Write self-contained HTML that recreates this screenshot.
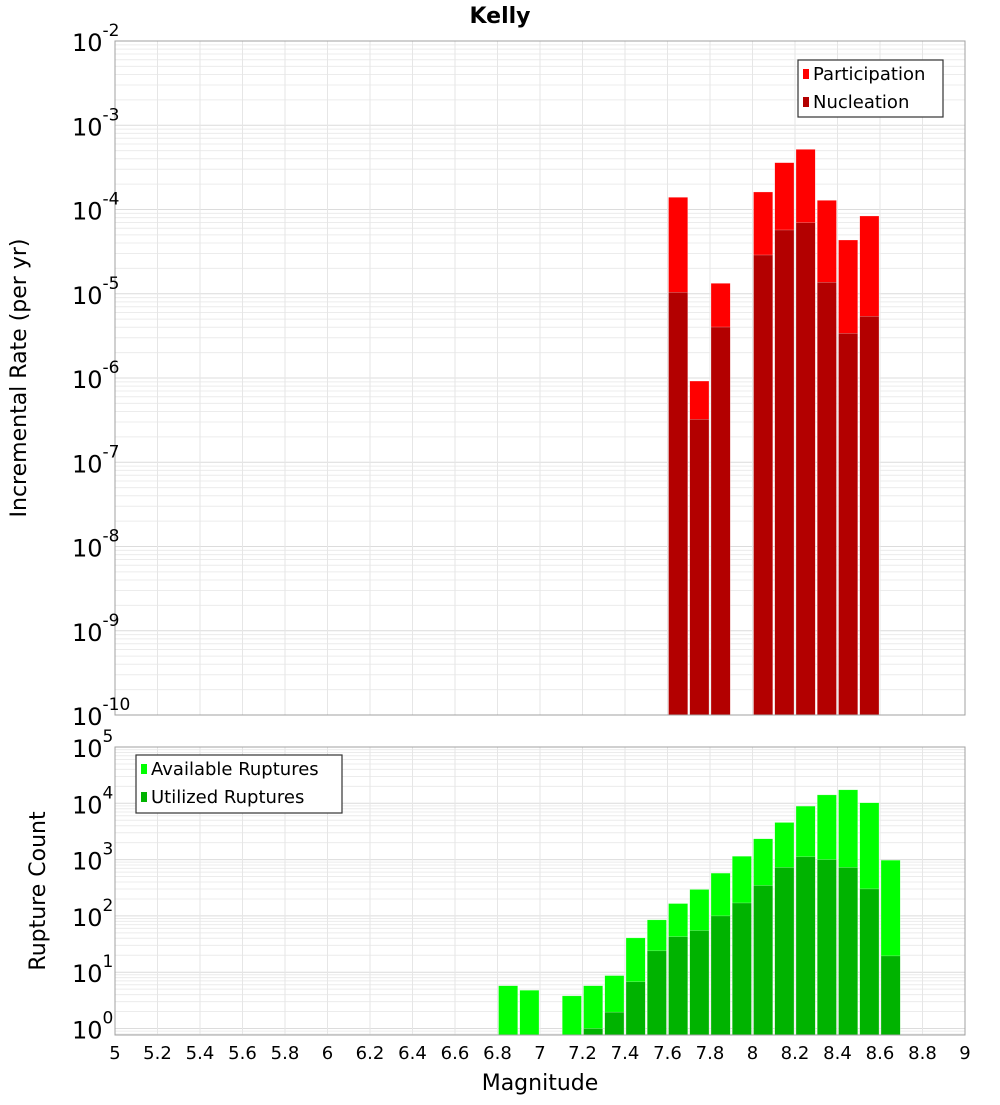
<!DOCTYPE html>
<html><head><meta charset="utf-8"><style>
body{margin:0;background:#fff}
svg text{font-family:"DejaVu Sans","Liberation Sans",sans-serif}
</style></head><body>
<svg id="c" width="1000" height="1100" xmlns="http://www.w3.org/2000/svg"></svg>
<script>
const rateMags=[7.65,7.75,7.85,8.05,8.15,8.25,8.35,8.45,8.55];
const participationLog=[-3.855,-6.036,-4.876,-3.792,-3.444,-3.286,-3.891,-4.362,-4.077];
const nucleationLog=[-4.983,-6.49,-5.395,-4.540,-4.243,-4.156,-4.864,-5.470,-5.268];
const countMags=[6.85,6.95,7.15,7.25,7.35,7.45,7.55,7.65,7.75,7.85,7.95,8.05,8.15,8.25,8.35,8.45,8.55,8.65];
const availableLog=[0.76,0.68,0.58,0.76,0.94,1.61,1.93,2.22,2.47,2.76,3.06,3.37,3.66,3.95,4.15,4.24,4.01,2.99];
const utilizedLog=[null,null,null,0.0,0.29,0.83,1.38,1.63,1.74,2.00,2.23,2.54,2.86,3.05,3.00,2.86,2.48,1.29];
const xTicks=[5,5.2,5.4,5.6,5.8,6,6.2,6.4,6.6,6.8,7,7.2,7.4,7.6,7.8,8,8.2,8.4,8.6,8.8,9];
const topDecades=[-10,-9,-8,-7,-6,-5,-4,-3,-2];
const botDecades=[0,1,2,3,4,5];

const svg=document.getElementById('c');
const NS='http://www.w3.org/2000/svg';
function mk(t,a,p){const e=document.createElementNS(NS,t);for(const k in a)e.setAttribute(k,a[k]);(p||svg).appendChild(e);return e;}
const L=115,R=965;
const x=m=>L+(m-5)*(R-L)/4;
const T1=41,B1=715; const yTop=v=>T1+(-2-v)*(B1-T1)/8;
const T2=747,B2=1035; const yBot=v=>1028.5-v*56.3;

function grid(T,B,yf,dmin,dmax,name){
  const g=mk('g',{});
  
  
  for(let d=dmin;d<=dmax;d++){for(let k=1;k<10;k++){const yy=yf(d+Math.log10(k));if(yy<T||yy>B)continue;
    mk('line',{x1:L,x2:R,y1:yy,y2:yy,stroke:k==1?'#dcdcdc':'#ececec','stroke-width':1},g);}}
  xTicks.forEach(t=>mk('line',{x1:x(t),x2:x(t),y1:T,y2:B,stroke:'#e6e6e6','stroke-width':1},g));
}
grid(T1,B1,yTop,-10,-2,'top');
grid(T2,B2,yBot,-1,5,'bottom');

function bars(mags,vals,yf,B,color,name){
  mags.forEach((m,i)=>{if(vals[i]==null)return;const yy=yf(vals[i]);
    const r=mk('rect',{x:x(m-0.05)+1,y:yy,width:x(0.1+5)-x(5)-2,height:B-yy,fill:color,stroke:'#ffffff','stroke-opacity':0.5,'stroke-width':0.5});
    
    });
}
bars(rateMags,participationLog,yTop,B1,'#ff0000','participation');
bars(rateMags,nucleationLog,yTop,B1,'#b30000','nucleation');
bars(countMags,availableLog,yBot,B2,'#00ff00','available');
bars(countMags,utilizedLog,yBot,B2,'#00b300','utilized');

mk('rect',{x:L,y:T1,width:R-L,height:B1-T1,fill:'none',stroke:'#a0a0a0'});
mk('rect',{x:L,y:T2,width:R-L,height:B2-T2,fill:'none',stroke:'#a0a0a0'});

function ylabels(decs,yf){
  decs.forEach(d=>{const yy=yf(d);
    const t=mk('text',{x:72,y:yy+10,'font-size':24,fill:'#000'});
    
    
    t.appendChild(document.createTextNode('10'));
    const s=document.createElementNS(NS,'tspan');s.setAttribute('dy','-15');s.setAttribute('font-size','17');s.textContent=String(d);t.appendChild(s);});
}
ylabels(topDecades,yTop);
ylabels(botDecades,yBot);

xTicks.forEach(t=>{const e=mk('text',{x:x(t),y:1059,'text-anchor':'middle','font-size':18,fill:'#000'});
  
  
  e.textContent=String(t);});

function txt(s,a,name){const e=mk('text',a);e.textContent=s;
  
  return e;}
txt('Kelly',{x:500,y:23,'text-anchor':'middle','font-size':22,'font-weight':'bold'},'chart-title');
txt('Magnitude',{x:540,y:1090,'text-anchor':'middle','font-size':22},'x-axis-title');
txt('Incremental Rate (per yr)',{x:0,y:0,'text-anchor':'middle','font-size':22,transform:'translate(26,378) rotate(-90)'},'y-axis-title-top');
txt('Rupture Count',{x:0,y:0,'text-anchor':'middle','font-size':22,transform:'translate(45,891) rotate(-90)'},'y-axis-title-bottom');

function legend(x0,y0,w,h,items,name){
  const g=mk('g',{});
  
  
  mk('rect',{x:x0,y:y0,width:w,height:h,fill:'#fff',stroke:'#333','stroke-width':1.2},g);
  items.forEach((it,i)=>{const cy=y0+14+i*28;
    mk('rect',{x:x0+5,y:cy-5,width:6,height:10,fill:it[1]},g);
    const t=mk('text',{x:x0+15,y:cy+6,'font-size':18},g);t.textContent=it[0];});
}
legend(798,60,145,57,[['Participation','#ff0000'],['Nucleation','#b30000']],'legend-top');
legend(136,755,206,58,[['Available Ruptures','#00ff00'],['Utilized Ruptures','#00b300']],'legend-bottom');
</script>
</body></html>
